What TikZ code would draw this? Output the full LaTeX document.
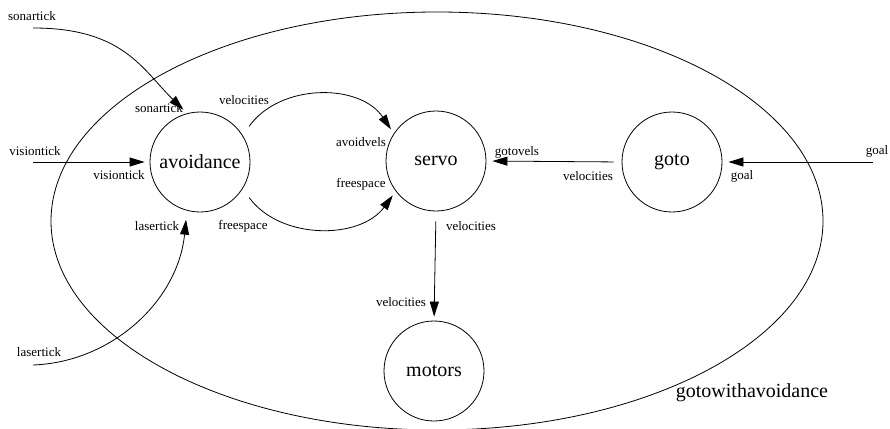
\documentclass[tikz,border=0pt]{standalone}
\usepackage{fontspec}
\setmainfont{Liberation Serif}
\usetikzlibrary{arrows.meta}
\tikzset{
  modbox/.style={draw, circle, line width=0.8pt, minimum size=100pt, inner sep=0pt, font=\fontsize{20}{22}\selectfont},
  lbl/.style={inner sep=0pt, font=\fontsize{13}{15}\selectfont},
  biglbl/.style={inner sep=0pt, font=\fontsize{20}{22}\selectfont},
  arr/.style={line width=0.8pt, -{Triangle[length=15pt,width=9pt]}},
  conn/.style={line width=0.8pt}
}
\begin{document}
\begin{tikzpicture}[x=1pt,y=-1pt]
\useasboundingbox (0,0) rectangle (890,428);
% outer ellipse
\draw[conn] (437,221) ellipse [x radius=386, y radius=209];
% modules
\node[modbox] (avoid) at (200,162) {avoidance};
\node[modbox] (servo) at (436,161) {servo};
\node[modbox] (goto) at (672,162) {goto};
\node[modbox] (motors) at (434,371) {motors};
% free ends
\coordinate (sonin) at (33,28);
\coordinate (visin) at (33,162);
\coordinate (lasin) at (33,365);
\coordinate (goalin) at (873,162);
% connectors
\draw[arr, shorten >=5pt] (sonin) .. controls (123,28) and (142,69) .. (avoid.105);
\draw[arr, shorten >=5pt] (visin) -- (avoid.west);
\draw[arr, shorten >=9pt] (lasin) .. controls (113,362) and (178,300) .. (avoid.255);
\draw[arr, shorten <=11pt, shorten >=5pt] (avoid.32) .. controls (280,83) and (360,83) .. (servo.147);
\draw[arr, shorten <=11pt, shorten >=5pt] (avoid.-32) .. controls (280,240) and (360,240) .. (servo.217);
\draw[arr, shorten <=8pt, shorten >=6pt] (goto.west) -- (servo.east);
\draw[arr, shorten >=6pt] (goalin) -- (goto.east);
\draw[arr, shorten <=10pt, shorten >=4pt] (servo.south) -- (motors.north);
% labels
\node[lbl] (l1) at (32,16) {sonartick};
\node[lbl] (l2) at (159,108) {sonartick};
\node[lbl] (l3) at (244,100) {velocities};
\node[lbl] (l4) at (35,151) {visiontick};
\node[lbl] (l5) at (119,175) {visiontick};
\node[lbl] (l6) at (157,226) {lasertick};
\node[lbl] (l7) at (243,226) {freespace};
\node[lbl] (l8) at (39,352) {lasertick};
\node[lbl] (l9) at (361,142) {avoidvels};
\node[lbl] (l10) at (361,184) {freespace};
\node[lbl] (l11) at (517,152) {gotovels};
\node[lbl] (l12) at (588,176) {velocities};
\node[lbl] (l13) at (877,151) {goal};
\node[lbl] (l14) at (742,176) {goal};
\node[lbl] (l15) at (471,226) {velocities};
\node[lbl] (l16) at (401,302) {velocities};
\node[biglbl] (l17) at (752,393) {gotowithavoidance};
\end{tikzpicture}
\end{document}
